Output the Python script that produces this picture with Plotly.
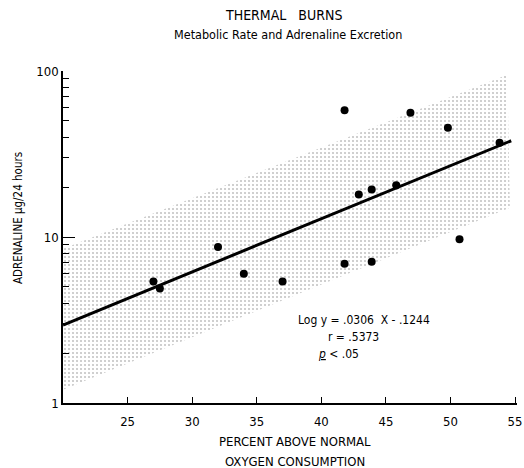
import plotly.graph_objects as go

# Data
oxygen_pct = [27.0, 27.5, 32.0, 34.0, 37.0, 41.8, 41.8, 42.9, 43.9, 43.9, 45.8, 46.9, 49.8, 50.7, 53.8]
adrenaline = [5.4, 4.9, 8.7, 6.0, 5.4, 58.0, 6.9, 18.0, 19.3, 7.1, 20.5, 56.0, 45.5, 9.7, 37.0]

# Regression line end points
line_x = [20, 54.7]
line_y = [2.95, 38.0]

# Stippled band corners
band_x = [20, 54.4, 54.6, 20, 20]
band_y = [8.5, 95.0, 15.0, 1.2, 8.5]

x_ticks = [25, 30, 35, 40, 45, 50, 55]
y_ticks = [1, 10, 100]
y_minor = [2, 3, 4, 5, 6, 7, 8, 9, 20, 30, 40, 50, 60, 70, 80, 90]

FONT = "DejaVu Sans Condensed, Liberation Sans Narrow, sans-serif"

W, H = 524, 468
L, R, T, B = 63, 7, 71, 65

fig = go.Figure()
fig.add_trace(go.Scatter(
    x=band_x, y=band_y, mode="lines", fill="toself",
    line=dict(width=0, color="rgba(0,0,0,0)"),
    fillcolor="rgba(255,255,255,0)",
    fillpattern=dict(shape=".", size=4, solidity=0.22, fgcolor="#888888", bgcolor="rgba(255,255,255,0)"),
    hoverinfo="skip", showlegend=False))
fig.add_trace(go.Scatter(
    x=line_x, y=line_y, mode="lines",
    line=dict(color="black", width=3), showlegend=False))
fig.add_trace(go.Scatter(
    x=oxygen_pct, y=adrenaline, mode="markers",
    marker=dict(color="black", size=8), showlegend=False))

tickfont = dict(size=13, color="black", family=FONT)
fig.update_xaxes(
    range=[20, 55.15], tickvals=x_ticks, ticks="inside", ticklen=6, tickwidth=1,
    tickcolor="black", showline=True, linecolor="black", linewidth=1.5,
    showgrid=False, zeroline=False, tickfont=tickfont, ticklabelstandoff=6,
    ticklabeloverflow="allow", automargin=False)
fig.update_yaxes(
    type="log", range=[0, 2], tickvals=y_ticks, ticktext=["1", "10", "100"],
    ticks="inside", ticklen=12, tickwidth=1.2, tickcolor="black",
    minor=dict(tickvals=y_minor, ticks="inside", ticklen=6, tickwidth=1.2, tickcolor="black", showgrid=False),
    showline=True, linecolor="black", linewidth=1.5, showgrid=False, zeroline=False,
    tickfont=tickfont, automargin=False)

fig.update_layout(
    width=W, height=H,
    margin=dict(l=L, r=R, t=T, b=B),
    paper_bgcolor="white", plot_bgcolor="white",
    font=dict(family=FONT, color="black", size=13),
    showlegend=False,
)

def ann(text, x, y, size=13, angle=0, xanchor="center"):
    fig.add_annotation(text=text, x=(x - L) / (W - L - R), y=(H - B - y) / (H - T - B),
                       xref="paper", yref="paper",
                       showarrow=False, xanchor=xanchor, yanchor="middle",
                       textangle=angle, font=dict(size=size, family=FONT, color="black"))

ann("THERMAL&nbsp;&nbsp;&nbsp;BURNS", 283, 15, size=14)
ann("Metabolic Rate and Adrenaline Excretion", 288, 35, size=12.5)
ann("PERCENT ABOVE NORMAL", 295, 442)
ann("OXYGEN CONSUMPTION", 295, 461)
ann("ADRENALINE µg/24 hours", 18, 218, size=11.5, angle=-90)
ann("Log y = .0306&nbsp; X - .1244", 296, 320, size=12, xanchor="left")
ann("r = .5373", 326, 337, size=12, xanchor="left")
ann("<u><i>p</i></u> < .05", 316, 354, size=12, xanchor="left")

fig.write_html("out.html", config={"displayModeBar": False},
               post_script="document.body.style.margin='0px';")
